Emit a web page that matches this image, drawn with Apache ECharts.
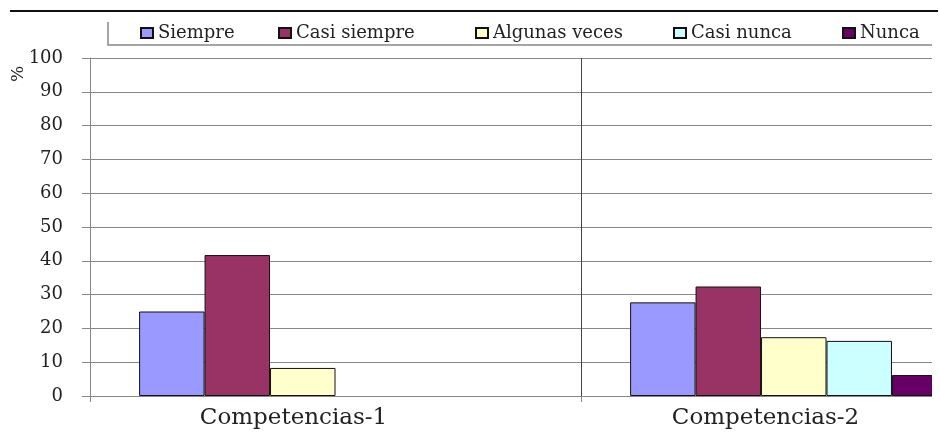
<!DOCTYPE html>
<html>
<head>
<meta charset="utf-8">
<script src="https://cdn.jsdelivr.net/npm/echarts@6/dist/echarts.min.js"></script>
<style>
  html, body { margin: 0; padding: 0; background: #fff; }
  #wrap { width: 940px; height: 445px; overflow: hidden; }
  #chart { width: 1080px; height: 445px; }
</style>
</head>
<body>
<div id="wrap"><div id="chart"></div></div>
<script>
// datos (%)
const categories = ['Competencias-1', 'Competencias-2']
const seriesNames = ['Siempre', 'Casi siempre', 'Algunas veces', 'Casi nunca', 'Nunca']
const siempre = [25, 27.7]
const casiSiempre = [41.7, 32.4]
const algunasVeces = [8.3, 17.4]
const casiNunca = [0, 16.3]
const nunca = [0, 6.2]

const colors = ['#9999ff', '#993366', '#ffffcc', '#ccffff', '#660066']
const legendLeft = [135, 273, 470, 668, 837]
const labelShift = [84, 122] // las etiquetas del original no están centradas
const FONT = 'DejaVu Serif'

const chart = echarts.init(document.getElementById('chart'))
const values = [siempre, casiSiempre, algunasVeces, casiNunca, nunca]

const series = values.map((data, i) => ({
  name: seriesNames[i],
  type: 'bar',
  // sin borde cuando el valor es 0
  data: data.map(v => v === 0 ? { value: v, itemStyle: { borderWidth: 0 } } : v),
  barGap: 0,
  barCategoryGap: '20%',
  itemStyle: { color: colors[i], borderColor: '#111', borderWidth: 1 }
}))
// hueco vacío a la derecha de cada grupo (como en el original)
series.push({ name: '_hueco', type: 'bar', data: [null, null], barGap: 0, barCategoryGap: '20%', silent: true })

const option = {
  animation: false,
  backgroundColor: '#fff',
  legend: seriesNames.map((n, i) => ({
    data: [n],
    left: legendLeft[i],
    top: 19,
    icon: 'rect',
    itemWidth: 12,
    itemHeight: 10,
    selectedMode: false,
    textStyle: { fontFamily: FONT, fontSize: 18, color: '#222' }
  })),
  grid: { left: 90, top: 58, width: 982, bottom: 49 },
  xAxis: {
    type: 'category',
    data: categories.map((c, i) => ({ value: c, textStyle: { padding: [0, labelShift[i], 0, 0] } })),
    axisLine: { lineStyle: { color: '#888' } },
    axisTick: { show: true, length: 6, lineStyle: { color: '#888' } },
    splitLine: { show: true, lineStyle: { color: '#444' } },
    axisLabel: { fontFamily: FONT, fontSize: 23, color: '#222', margin: 11 }
  },
  yAxis: {
    type: 'value',
    min: 0,
    max: 100,
    interval: 10,
    axisLine: { show: true, lineStyle: { color: '#888' } },
    axisTick: { show: true, length: 8, lineStyle: { color: '#888' } },
    splitLine: { lineStyle: { color: '#888' } },
    axisLabel: { fontFamily: FONT, fontSize: 18, color: '#222', margin: 27 }
  },
  graphic: [
    { type: 'rect', z: 100, shape: { x: 932, y: 0, width: 148, height: 445 }, style: { fill: '#fff' } },
    { type: 'line', z: 101, shape: { x1: 10, y1: 11, x2: 938, y2: 11 }, style: { stroke: '#111', lineWidth: 2 } },
    { type: 'polyline', z: 101, shape: { points: [[108, 22], [108, 45], [932, 45]] }, style: { stroke: '#888', lineWidth: 1.5, fill: null } },
    { type: 'text', z: 101, x: 10, y: 82, rotation: Math.PI / 2, style: { text: '%', fontFamily: FONT, fontSize: 17, fill: '#222' } }
  ],
  series
}
chart.setOption(option)
</script>
</body>
</html>
